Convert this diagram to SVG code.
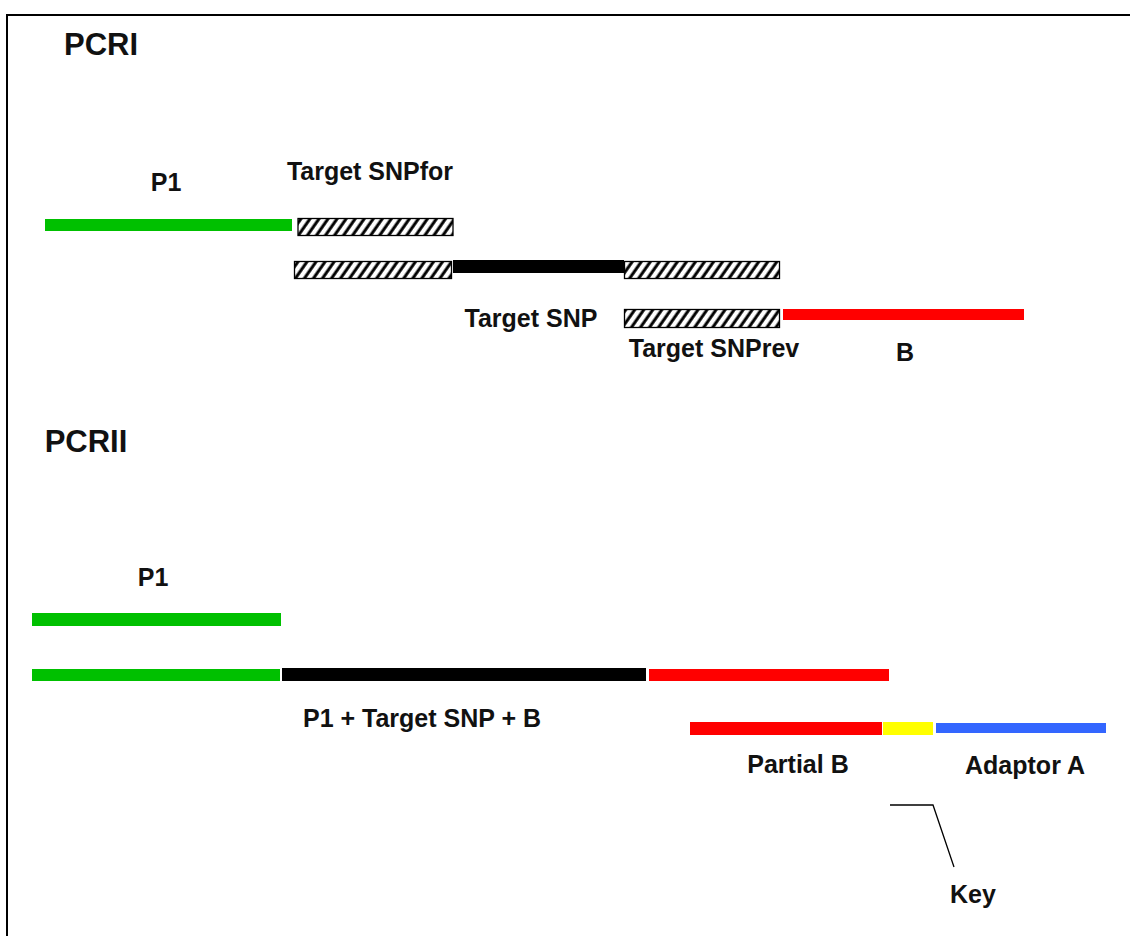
<svg xmlns="http://www.w3.org/2000/svg" width="1130" height="936" viewBox="0 0 1130 936">
<defs>
<pattern id="hatch" patternUnits="userSpaceOnUse" width="7.4" height="20" patternTransform="rotate(35)">
<rect x="0" y="0" width="7.4" height="20" fill="#fff"/>
<line x1="2" y1="-5" x2="2" y2="25" stroke="#000" stroke-width="3"/>
</pattern>
<style>
.t{font-family:"Liberation Sans",Arial,sans-serif;font-weight:bold;font-size:25px;fill:#111;text-anchor:middle}
.h{font-size:31px}
.hb{fill:url(#hatch);stroke:#000;stroke-width:1.3}
.g{fill:#00C000}
.r{fill:#FF0000}
.k{fill:#000}
.y{fill:#FFFF00}
.b{fill:#3366FF}
</style>
</defs>
<rect width="1130" height="936" fill="#fff"/>
<path d="M7,936 V15 H1130" fill="none" stroke="#000" stroke-width="2"/>
<g id="pcr1">
<text class="t h" x="101" y="55">PCRI</text>
<g id="p1-top"><rect class="g" x="45" y="219" width="247" height="12"/><text class="t" x="166" y="191">P1</text></g>
<g id="snpfor"><rect class="hb" x="298" y="218.5" width="155" height="17"/><text class="t" x="370" y="180">Target SNPfor</text></g>
<g id="snp-row">
<rect class="hb" x="294.5" y="261.5" width="157" height="17"/>
<rect class="k" x="453" y="260" width="171" height="13"/>
<rect class="hb" x="624.5" y="261.5" width="155" height="17"/>
<text class="t" x="531" y="327">Target SNP</text>
</g>
<g id="snprev"><rect class="hb" x="624.5" y="309.5" width="155" height="18"/><text class="t" x="714" y="357">Target SNPrev</text></g>
<g id="b"><rect class="r" x="783" y="309" width="241" height="11"/><text class="t" x="905" y="361">B</text></g>
</g>
<g id="pcr2">
<text class="t h" x="86" y="452">PCRII</text>
<g id="p1-2"><rect class="g" x="32" y="613" width="249" height="13"/><text class="t" x="153" y="586">P1</text></g>
<g id="product">
<rect class="g" x="32" y="669" width="248" height="12"/>
<rect class="k" x="282" y="668" width="364" height="13"/>
<rect class="r" x="649" y="669" width="240" height="12"/>
<text class="t" x="422" y="727">P1 + Target SNP + B</text>
</g>
<g id="adaptor">
<rect class="r" x="690" y="722" width="192" height="13"/>
<rect class="y" x="883" y="722" width="50" height="13"/>
<rect class="b" x="936" y="723" width="170" height="10"/>
<text class="t" x="798" y="773">Partial B</text>
<text class="t" x="1025" y="774">Adaptor A</text>
</g>
<g id="key"><text class="t" x="973" y="903">Key</text></g>
</g>
<g id="connectors">
<path d="M890,805 H933 L954,867" fill="none" stroke="#000" stroke-width="1.3"/>
</g>
</svg>
